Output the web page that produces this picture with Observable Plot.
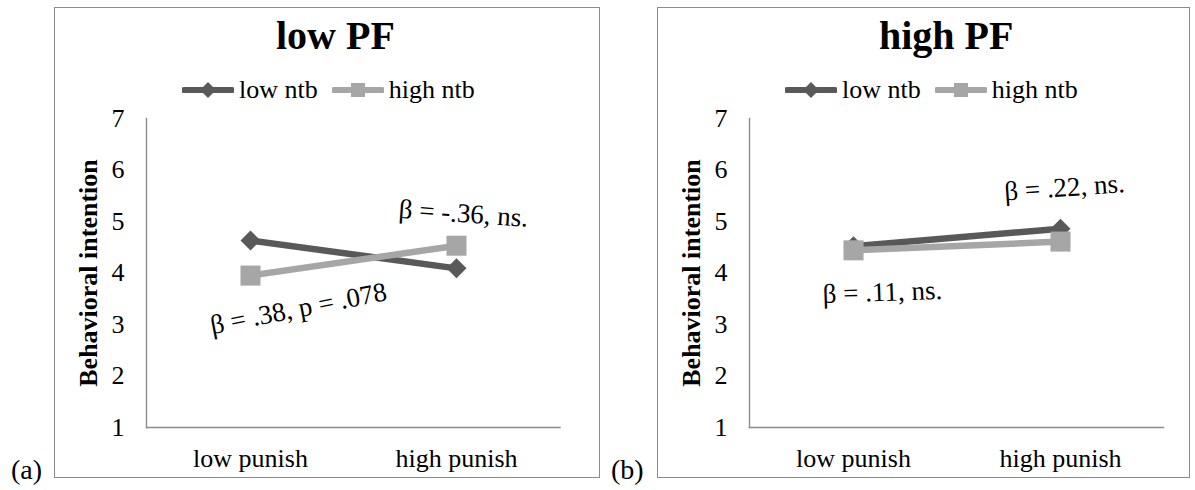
<!DOCTYPE html>
<html>
<head>
<meta charset="utf-8">
<script src="https://cdn.jsdelivr.net/npm/d3@7"></script>
<script src="https://cdn.jsdelivr.net/npm/@observablehq/plot@0.6"></script>
<style>
  html, body { margin: 0; padding: 0; background: #fff; }
  body { width: 1195px; height: 490px; position: relative; overflow: hidden;
         font-family: "Liberation Serif", "Times New Roman", serif; color: #000; }
  .panel { position: absolute; }
  .border { position: absolute; inset: 0; border: 1.5px solid #8c8c8c; box-sizing: border-box; pointer-events: none; }
  .panel > svg { position: absolute; left: 0; top: 0; }
  .title { position: absolute; font-weight: bold; font-size: 40px; line-height: 40px; white-space: nowrap; }
  .legend { position: absolute; display: flex; align-items: center; height: 26px; font-size: 26px; line-height: 26px; white-space: nowrap; }
  .legend .item { display: flex; align-items: center; margin-right: 14px; }
  .legend .item svg { display: block; }
  .legend .item span { margin-left: 5px; }
  .tag { position: absolute; font-size: 28px; line-height: 28px; }
</style>
</head>
<body>
<script>
// ---- data ----
const punish = ["low punish", "high punish"];
const seriesNames = ["low ntb", "high ntb"];
const lowPF_lowNtb = [4.63, 4.09];
const lowPF_highNtb = [3.95, 4.53];
const highPF_lowNtb = [4.52, 4.86];
const highPF_highNtb = [4.44, 4.61];
const yTicks = [1, 2, 3, 4, 5, 6, 7];
const panelTitles = ["low PF", "high PF"];
const panelTags = ["(a)", "(b)"];
const yLabel = "Behavioral intention";
const lowPF_notes = ["β = .38, p = .078", "β = -.36, ns."];
const highPF_notes = ["β = .11, ns.", "β = .22, ns."];

const colors = { "low ntb": "#595959", "high ntb": "#a6a6a6" };
const FONT = '"Liberation Serif", "Times New Roman", serif';

function rows(lowVals, highVals) {
  const out = [];
  punish.forEach((p, i) => out.push({ series: "low ntb", punish: p, value: lowVals[i] }));
  punish.forEach((p, i) => out.push({ series: "high ntb", punish: p, value: highVals[i] }));
  return out;
}

function makePlot(data, notes, width, marginRight) {
  const low = data.filter(d => d.series === "low ntb");
  const high = data.filter(d => d.series === "high ntb");
  return Plot.plot({
    width, height: 471,
    marginLeft: 92, marginRight, marginTop: 111, marginBottom: 51,
    style: { fontFamily: FONT, color: "#000", background: "transparent", overflow: "visible" },
    x: { type: "point", domain: punish, padding: 0.5 },
    y: { domain: [1, 7] },
    marks: [
      Plot.frame({ anchor: "left", stroke: "#8c8c8c", strokeWidth: 1.4 }),
      Plot.frame({ anchor: "bottom", stroke: "#8c8c8c", strokeWidth: 1.4 }),
      Plot.axisY({ ticks: yTicks, tickSize: 0, tickPadding: 22, fontSize: 26, label: null, tickFormat: d3.format("d") }),
      Plot.axisX({ tickSize: 0, tickPadding: 21, fontSize: 26, label: null }),
      Plot.text([yLabel], { frameAnchor: "left", textAnchor: "middle", dx: -58, rotate: -90, fontWeight: "bold", fontSize: 26 }),
      Plot.line(low, { x: "punish", y: "value", stroke: colors["low ntb"], strokeWidth: 6.5, strokeLinecap: "round" }),
      Plot.dot(low, { x: "punish", y: "value", symbol: "diamond2", r: 9, fill: colors["low ntb"], stroke: "none" }),
      Plot.line(high, { x: "punish", y: "value", stroke: colors["high ntb"], strokeWidth: 6.5, strokeLinecap: "round" }),
      Plot.dot(high, { x: "punish", y: "value", symbol: "square", r: 11.3, fill: colors["high ntb"], stroke: "none" }),
      ...notes
    ]
  });
}

function addPanel(left, width, marginRight, data, notes, title, tag, tagLeft) {
  const panel = document.createElement("div");
  panel.className = "panel";
  panel.style.left = left + "px";
  panel.style.top = "7px";
  panel.style.width = width + "px";
  panel.style.height = "471px";
  panel.appendChild(makePlot(data, notes, width, marginRight));
  const border = document.createElement("div");
  border.className = "border";
  panel.appendChild(border);
  const t = document.createElement("div");
  t.className = "title";
  t.textContent = title;
  t.style.left = "222px";
  t.style.top = "9px";
  panel.appendChild(t);
  const lg = document.createElement("div");
  lg.className = "legend";
  lg.style.left = "128px";
  lg.style.top = "70px";
  seriesNames.forEach(s => {
    const item = document.createElement("div");
    item.className = "item";
    const marker = s === "low ntb"
      ? `<path d="M26,5 L34,13 L26,21 L18,13 Z" fill="${colors[s]}"/>`
      : `<rect x="19" y="6" width="14" height="14" fill="${colors[s]}"/>`;
    item.innerHTML = `<svg width="52" height="26"><line x1="2" y1="13" x2="50" y2="13" stroke="${colors[s]}" stroke-width="6" stroke-linecap="round"/>${marker}</svg><span>${s}</span>`;
    lg.appendChild(item);
  });
  panel.appendChild(lg);
  document.body.appendChild(panel);
  const tg = document.createElement("div");
  tg.className = "tag";
  tg.textContent = tag;
  tg.style.left = tagLeft + "px";
  tg.style.top = "456px";
  document.body.appendChild(tg);
}

const dataA = rows(lowPF_lowNtb, lowPF_highNtb);
const dataB = rows(highPF_lowNtb, highPF_highNtb);
const pick = (data, s, p) => data.filter(d => d.series === s && d.punish === p).map(d => ({...d}));

const notesA = [
  Plot.text(pick(dataA, "high ntb", "low punish"), { x: "punish", y: "value", text: () => lowPF_notes[0], dx: 48, dy: 33, rotate: -11, fontSize: 27 }),
  Plot.text(pick(dataA, "high ntb", "high punish"), { x: "punish", y: "value", text: () => lowPF_notes[1], dx: 7, dy: -32, rotate: 4, fontSize: 27 })
];
const notesB = [
  Plot.text(pick(dataB, "high ntb", "low punish"), { x: "punish", y: "value", text: () => highPF_notes[0], dx: 29, dy: 42, rotate: -2, fontSize: 27 }),
  Plot.text(pick(dataB, "low ntb", "high punish"), { x: "punish", y: "value", text: () => highPF_notes[1], dx: 4, dy: -41, rotate: -4, fontSize: 27 })
];

addPanel(54, 546, 40.5, dataA, notesA, panelTitles[0], panelTags[0], 11);
addPanel(657, 533, 27, dataB, notesB, panelTitles[1], panelTags[1], 611);
</script>
</body>
</html>
